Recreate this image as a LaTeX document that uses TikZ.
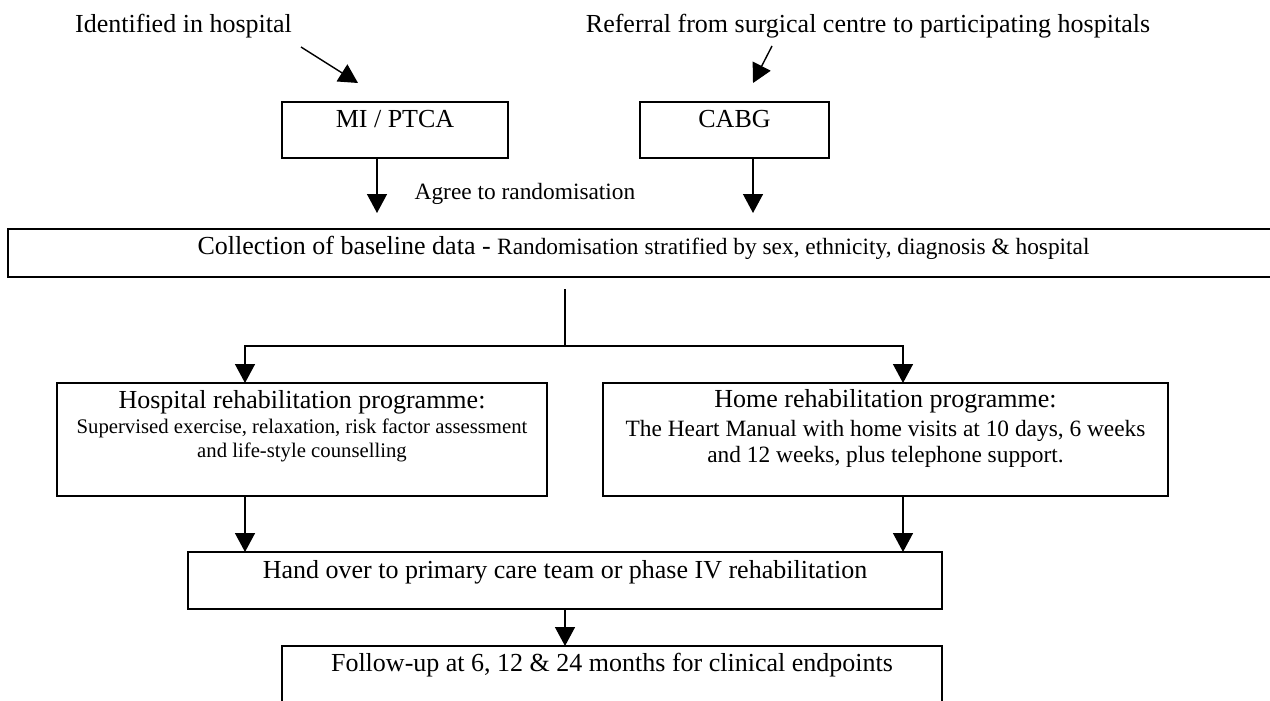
\documentclass[tikz,border=0pt]{standalone}
\usepackage{fontspec}
\setmainfont{Liberation Serif}
\usetikzlibrary{arrows.meta}

\newcommand\bigtxt{\fontsize{14.8}{17}\selectfont}
\newcommand\midtxt{\fontsize{13.3}{15}\selectfont}
\newcommand\smalltxt{\fontsize{11.8}{14}\selectfont}

\tikzset{
  box/.style={draw, line width=0.8pt, inner sep=0pt, outer sep=0pt},
  txt/.style={anchor=base, inner sep=0pt},
  arr/.style={line width=0.8pt, -{Triangle[length=3.8mm, width=4mm]}}
}

\begin{document}
\begin{tikzpicture}[x=0.02cm, y=-0.02cm]
\useasboundingbox (0,0) rectangle (1270,700);

% sources
\node[txt] (idtxt) at (183.5,32) {\bigtxt Identified in hospital};
\node[txt] (reftxt) at (868,32) {\bigtxt Referral from surgical centre to participating hospitals};
\coordinate (idfrom) at (301,47);
\coordinate (idto) at (358,83);
\coordinate (reffrom) at (772,46);
\coordinate (refto) at (753,83);
\draw[arr] (idfrom) -- (idto);
\draw[arr] (reffrom) -- (refto);

% diagnosis boxes
\node[box, minimum width=4.52cm, minimum height=1.12cm] (mi) at (395,130) {};
\node[txt] (mitxt) at (395,127) {\bigtxt MI / PTCA};
\node[box, minimum width=3.78cm, minimum height=1.12cm] (cabg) at (734.5,130) {};
\node[txt] (cabgtxt) at (734.5,127) {\bigtxt CABG};

\coordinate (miarr) at (377,213);
\coordinate (cabgarr) at (753,213);
\draw[arr] (mi.south -| miarr) -- (miarr);
\draw[arr] (cabg.south -| cabgarr) -- (cabgarr);
\node[txt] (agree) at (525,199) {\midtxt Agree to randomisation};

% baseline and randomisation
\node[box, minimum width=25.26cm, minimum height=0.96cm] (base) at (639.5,253) {};
\node[txt] (basetxt) at (643.5,254) {\bigtxt Collection of baseline data - \midtxt Randomisation stratified by sex, ethnicity, diagnosis \& hospital};

\coordinate (forktop) at (565,289);
\coordinate (forkmid) at (565,346);
\coordinate (forkl) at (245,346);
\coordinate (forkr) at (903,346);

% the two programmes
\node[box, minimum width=9.8cm, minimum height=2.26cm] (hosp) at (302,439.5) {};
\node[txt] (hosp1) at (302,408) {\bigtxt Hospital rehabilitation programme:};
\node[txt] (hosp2) at (302,433) {\smalltxt Supervised exercise, relaxation, risk factor assessment};
\node[txt] (hosp3) at (302,457) {\smalltxt and life-style counselling};

\node[box, minimum width=11.3cm, minimum height=2.26cm] (home) at (885.5,439.5) {};
\node[txt] (home1) at (885.5,407) {\bigtxt Home rehabilitation programme:};
\node[txt] (home2) at (885.5,436) {\midtxt The Heart Manual with home visits at 10 days, 6 weeks};
\node[txt] (home3) at (885.5,462) {\midtxt and 12 weeks, plus telephone support.};

\draw[line width=0.8pt] (forktop) -- (forkmid);
\draw[arr] (forkmid) -- (forkl) -- (hosp.north -| forkl);
\draw[arr] (forkmid) -- (forkr) -- (home.north -| forkr);

% hand over and follow-up
\node[box, minimum width=15.08cm, minimum height=1.14cm] (hand) at (565,580.5) {};
\node[txt] (handtxt) at (565,578) {\bigtxt Hand over to primary care team or phase IV rehabilitation};
\node[box, minimum width=13.2cm, minimum height=1.18cm] (follow) at (612,675.5) {};
\node[txt] (followtxt) at (612,671) {\bigtxt Follow-up at 6, 12 \& 24 months for clinical endpoints};

\draw[arr] (hosp.south -| forkl) -- (hand.north -| forkl);
\draw[arr] (home.south -| forkr) -- (hand.north -| forkr);
\draw[arr] (hand.south -| forkmid) -- (follow.north -| forkmid);

\end{tikzpicture}
\end{document}
